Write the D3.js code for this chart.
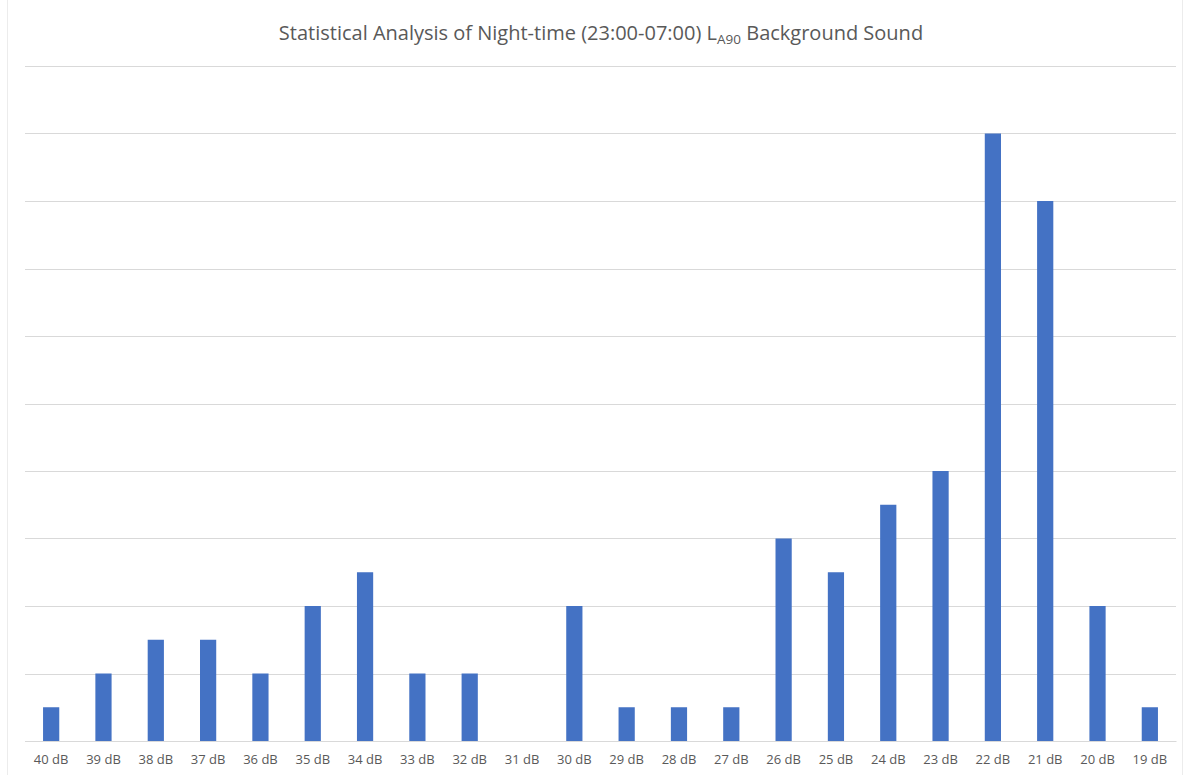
<!DOCTYPE html>
<html>
<head>
<meta charset="utf-8">
<script src="https://cdn.jsdelivr.net/npm/d3@7"></script>
<style>
  html, body { margin: 0; padding: 0; background: #fff; }
  svg { display: block; }
</style>
</head>
<body>
<svg id="chart" width="1194" height="775"></svg>
<script>
// Sound level bins (dB) and number of night-time periods in each
const categories = ["40 dB","39 dB","38 dB","37 dB","36 dB","35 dB","34 dB","33 dB","32 dB","31 dB","30 dB",
                    "29 dB","28 dB","27 dB","26 dB","25 dB","24 dB","23 dB","22 dB","21 dB","20 dB","19 dB"];
const counts = [1, 2, 3, 3, 2, 4, 5, 2, 2, 0, 4, 1, 1, 1, 6, 5, 7, 8, 18, 16, 4, 1];
const gridValues = [0, 2, 4, 6, 8, 10, 12, 14, 16, 18, 20];

const svg = d3.select("#chart");
const W = 1194, H = 775;
const margin = { left: 25, right: 18, top: 66, bottom: 34 };

// faint chart frame
svg.append("rect")
  .attr("x", 7.5).attr("y", -1).attr("width", 1175).attr("height", H + 2)
  .attr("fill", "none").attr("stroke", "#ececec").attr("stroke-width", 1);

const x = d3.scaleBand()
  .domain(categories)
  .range([margin.left, W - margin.right])
  .paddingInner(0.69).paddingOuter(0.345);

const y = d3.scaleLinear()
  .domain([0, 20])
  .range([H - margin.bottom, margin.top]);

// horizontal gridlines
svg.append("g")
  .selectAll("line")
  .data(gridValues)
  .join("line")
  .attr("x1", margin.left).attr("x2", W - margin.right)
  .attr("y1", d => Math.round(y(d)) + 0.5).attr("y2", d => Math.round(y(d)) + 0.5)
  .attr("stroke", "#d9d9d9").attr("stroke-width", 1.2);

// bars
svg.append("g")
  .selectAll("rect")
  .data(counts)
  .join("rect")
  .attr("x", (d, i) => x(categories[i]))
  .attr("width", x.bandwidth())
  .attr("y", d => y(d))
  .attr("height", d => y(0) - y(d))
  .attr("fill", "#4472C4");

// category axis
const xAxis = svg.append("g")
  .attr("transform", `translate(0,${y(0)})`)
  .call(d3.axisBottom(x).tickSize(0).tickPadding(14));
xAxis.select(".domain").attr("stroke", "#d9d9d9").attr("stroke-width", 1.2);
xAxis.selectAll("text")
  .attr("fill", "#595959")
  .style("font-family", "'Open Sans', sans-serif")
  .style("font-size", "13px");

// title with subscript
const title = svg.append("text")
  .attr("x", 601).attr("y", 40)
  .attr("text-anchor", "middle")
  .attr("fill", "#595959")
  .style("font-family", "'Open Sans', sans-serif")
  .style("font-size", "20px");
title.append("tspan").text("Statistical Analysis of Night-time (23:00-07:00) L");
title.append("tspan").attr("dy", 4).style("font-size", "13.5px").text("A90");
title.append("tspan").attr("dy", -4).text(" Background Sound");
</script>
</body>
</html>
